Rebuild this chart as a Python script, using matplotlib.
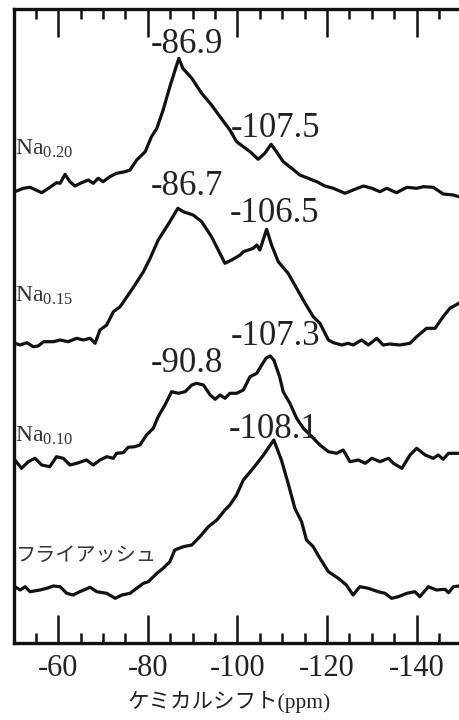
import numpy as np
import matplotlib.pyplot as plt
from matplotlib.ticker import MultipleLocator

plt.rcParams['font.family'] = ['Liberation Serif', 'Noto Sans CJK JP']
plt.rcParams['mathtext.fontset'] = 'custom'
plt.rcParams['mathtext.rm'] = 'Liberation Serif'
plt.rcParams['mathtext.it'] = 'Liberation Serif'
plt.rcParams['axes.unicode_minus'] = False

# 29Si NMR スペクトル (ppm, 任意強度: 各ベースラインからの高さ)
na020_ppm = [-50.0, -50.3, -52.2, -53.7, -56.3, -57.8, -59.6, -60.4, -61.5, -62.6, -63.7, -65.2,
             -66.7, -67.8, -68.9, -70.0, -71.5, -73.0, -74.9, -76.0, -77.5, -79.4, -80.8, -82.0,
             -83.4, -84.9, -86.9, -87.8, -89.8, -92.0, -94.2, -96.1, -98.3, -99.8, -101.3, -102.8,
             -104.6, -106.1, -107.5, -108.7, -110.2, -112.1, -113.9, -115.8, -117.7, -119.5,
             -121.4, -124.0, -126.2, -128.1, -130.0, -131.8, -133.3, -135.5, -137.8, -140.0,
             -141.5, -143.7, -145.9, -148.2, -149.4, -150.0]
na020_int = [-1, -1.7, 1.7, 2.7, -2.7, 1.7, 7.3, 6.7, 15.7, 8.3, 4, 7.3,
             10, 6.7, 11.7, 8.3, 13.3, 16.7, 18.3, 20, 30, 38.3, 53.3, 61.7,
             80, 103.3, 131.7, 121.7, 111.7, 96.7, 85, 73.3, 60, 48.3, 43.3, 38.3,
             30.7, 36.7, 45.7, 38.3, 28.3, 21.7, 15, 11.7, 8.3, 4,
             1.7, -3.3, 0.7, 4, 1.7, -1.7, 1.7, -2.7, 2.7, 1.7,
             3.3, 2.7, -4, -5, -6.7, -7]

na015_ppm = [-50.0, -50.3, -51.5, -53.0, -54.4, -55.5, -56.7, -58.9, -60.4, -62.2, -64.1, -65.6,
             -67.1, -68.2, -69.3, -70.8, -72.3, -73.8, -75.6, -77.1, -79.0, -80.5, -82.3, -84.2,
             -86.7, -87.9, -90.1, -92.0, -94.2, -95.7, -97.2, -98.7, -100.6, -101.3, -103.5,
             -104.3, -105.0, -106.5, -107.6, -109.1, -111.3, -113.2, -115.1, -116.9, -118.4,
             -120.3, -121.4, -123.3, -124.7, -125.8, -127.7, -129.2, -131.1, -132.5, -134.0,
             -136.2, -138.5, -140.0, -142.2, -144.1, -145.9, -147.4, -149.4, -150.0]
na015_int = [0, -1.3, -3, -0.7, -4.7, -4, 0.3, 0.3, 2, 0.3, 3.7, 2,
             3.7, -1.3, 12, 17, 30.3, 35.3, 47, 57, 70.3, 83.7, 102, 115.3,
             133.7, 130.3, 127, 120.3, 105.3, 92, 78.7, 82, 87, 90.3, 93.7,
             97, 92, 112.7, 97, 80.3, 68.7, 53.7, 38.7, 25.3, 18.7,
             2, -0.7, -3, -1.3, -3, 2, -3, 3.7, -3, -2,
             -3, -1.3, 5.3, 13.7, 13.7, 25.3, 33.7, 38.7, 41]

na010_ppm = [-50.0, -50.3, -51.8, -53.3, -54.8, -56.3, -58.1, -59.6, -61.1, -62.6, -64.1, -66.3,
             -67.8, -69.3, -70.8, -72.3, -73.0, -74.5, -75.6, -77.1, -78.2, -79.7, -81.2, -82.3,
             -83.8, -85.3, -86.8, -88.3, -89.8, -90.8, -92.4, -93.9, -95.0, -96.1, -97.2, -98.3,
             -99.8, -101.3, -102.8, -104.3, -105.4, -106.4, -107.3, -108.1, -109.4, -110.2,
             -111.7, -113.2, -114.7, -116.6, -118.4, -120.3, -122.1, -123.6, -125.1, -127.0,
             -128.5, -130.0, -131.8, -133.7, -134.8, -136.7, -138.5, -140.0, -141.9, -143.7,
             -144.8, -145.9, -147.1, -149.4, -150.0]
na010_int = [2, 1, -7.3, -0.7, 2.7, -4, -5.7, 4.3, 2.7, -4, -2.3, 1,
             -4, 1, 4.3, 2.7, 7.7, 8.3, 13.7, 14.3, 16, 26, 32.7, 44.3,
             56, 69.3, 67.7, 69.3, 76, 77.7, 76, 66, 61.7, 66, 62.7, 67.7,
             67.7, 71, 84.3, 87.7, 96, 103, 105, 101, 84.3, 69.3,
             57.7, 42.7, 32.7, 24.3, 16, 9.3, 7.7, 11, -0.7, 1,
             -2.3, 2.7, -0.7, 2.7, -2.3, -7.3, 6, 12.7, 6, 2.7,
             6, 1.7, 7.7, 7.7, 7]

ash_ppm = [-50.0, -50.3, -51.5, -52.6, -53.7, -55.9, -57.4, -58.9, -60.4, -61.9, -63.3, -64.8,
           -67.1, -68.6, -70.8, -72.7, -74.2, -76.0, -77.5, -79.0, -80.1, -82.0, -83.4, -84.9,
           -86.0, -87.9, -89.8, -91.6, -93.5, -95.4, -97.2, -98.3, -99.8, -101.3, -103.5,
           -105.8, -108.1, -109.8, -111.3, -112.8, -114.3, -115.4, -116.9, -118.4, -120.3,
           -122.5, -124.3, -125.8, -127.3, -129.2, -131.4, -132.9, -134.4, -135.9, -137.8,
           -139.6, -140.7, -142.6, -144.4, -146.3, -147.1, -148.2, -149.4, -150.0]
ash_int = [3, 2.3, -1, 2.3, -2.7, -1, 0.7, 3, 2.3, -4.3, -6, -2.7,
           1.7, -2.7, -4.3, -9.3, -6, -4.3, 0.7, 5.7, 7.3, 15.7, 20.7, 27.3,
           39, 42.3, 44, 52.3, 62.3, 69, 79, 84, 94, 109, 120.7,
           134, 149, 129, 105.7, 80.7, 67.3, 49, 42.3, 30.7, 17.3,
           10.7, 4, -6, 2.3, 0.7, -2.7, -4.3, -9.3, -7.7, -4.3,
           -2.7, -7.7, 2.3, -1, -0.3, -3.7, 2.3, 3, 3]

traces = [(na020_ppm, na020_int), (na015_ppm, na015_int),
          (na010_ppm, na010_int), (ash_ppm, ash_int)]
offsets = [453, 301, 182, 54]
names = [r'$\mathrm{Na}_{0.20}$', r'$\mathrm{Na}_{0.15}$', r'$\mathrm{Na}_{0.10}$', 'フライアッシュ']
name_shift = [35, 40, 19, 28]
name_size = [17, 17, 17, 14.5]

peaks = [[-86.9, -107.5], [-86.7, -106.5], [-90.8, -107.3], [-108.1]]
# ラベルのずらし量 (pixel)
peak_shift = [[(8, 5), (4, 7)], [(9, 13), (8, 7)], [(-9, 11), (5, 11)], [(0, 2)]]

fig = plt.figure(figsize=(4.59, 7.2), dpi=100)
ax = fig.add_axes([13.5 / 459, 1 - 643 / 720, 448 / 459, 634 / 720])

for (x, y), off, name, dy, fs, pk, sh in zip(traces, offsets, names, name_shift,
                                             name_size, peaks, peak_shift):
    x = np.array(x)
    y = np.array(y) + off
    ax.plot(x, y, color='#111111', lw=2.3, solid_joinstyle='round')
    ax.text(-50.35, off + dy, name, fontsize=fs, color='#333333', va='baseline', ha='left')
    for p, (sx, sy) in zip(pk, sh):
        py = np.interp(p, x[::-1], y[::-1])
        ax.annotate(f'{p:.1f}', xy=(p, py), xytext=(sx, sy), textcoords='offset pixels',
                    ha='center', va='baseline', fontsize=25, color='#222222')

ax.set_xlim(-50, -150)
ax.set_ylim(0, 634)
ax.set_yticks([])
ax.xaxis.set_major_locator(MultipleLocator(20))
ax.xaxis.set_minor_locator(MultipleLocator(5))
ax.tick_params(axis='x', which='both', direction='in', top=True, bottom=True,
               colors='#111111', labelcolor='#222222')
ax.tick_params(axis='x', which='major', length=20, width=1.8, labelsize=22, pad=8)
ax.tick_params(axis='x', which='minor', length=7, width=1.8)
for s in ax.spines.values():
    s.set_linewidth(2.4)
    s.set_color('#111111')

fig.text(0.5, 1 - 708 / 720, 'ケミカルシフト(ppm)', ha='center', va='baseline',
         fontsize=15.5, color='#222222')

fig.savefig('out.png', dpi=100)
